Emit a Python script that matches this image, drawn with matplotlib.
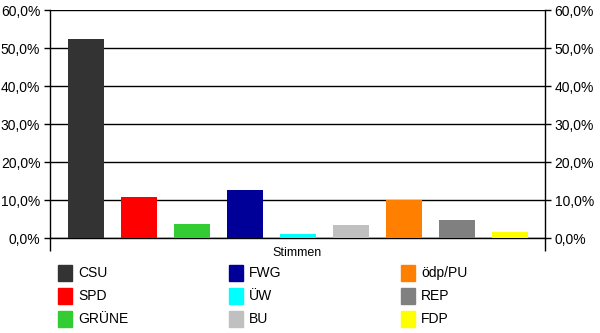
import matplotlib.pyplot as plt
from matplotlib.patches import Rectangle
from matplotlib.ticker import FuncFormatter

plt.rcParams['font.family'] = ['Liberation Sans', 'DejaVu Sans']
plt.rcParams['font.size'] = 10

# Data
parties = ["CSU", "SPD", "GRÜNE", "FWG", "ÜW", "BU", "ödp/PU", "REP", "FDP"]
shares = [52.4, 10.8, 3.7, 12.6, 1.1, 3.4, 10.0, 4.7, 1.7]
colors = ["#333333", "#FF0000", "#33CC33", "#000099", "#00FFFF",
          "#C0C0C0", "#FF8000", "#808080", "#FFFF00"]
yticks = [0, 10, 20, 30, 40, 50, 60]
xlabel = "Stimmen"

W, H = 600, 333
fig = plt.figure(figsize=(W / 100, H / 100), dpi=100)
ax = fig.add_axes([50 / W, (H - 238) / H, 495 / W, 228 / H])

x = list(range(len(parties)))
ax.bar(x, shares, width=0.68, color=colors, zorder=3)

ax.set_ylim(0, 60)
ax.set_xlim(-0.68, 8.66)
ax.set_yticks(yticks)
pct = FuncFormatter(lambda v, p: f"{v:.1f}%".replace(".", ","))
ax.yaxis.set_major_formatter(pct)
ax.tick_params(axis='y', which='both', left=True, right=True,
               labelleft=True, labelright=True, length=4, width=1,
               direction='out', pad=3, colors='black')
ax.set_xticks([-0.68, 8.66])
ax.set_xticklabels([])
ax.tick_params(axis='x', length=9, width=1, direction='out')
ax.grid(axis='y', color='black', linewidth=1, zorder=0)
for s in ['left', 'right', 'bottom']:
    ax.spines[s].set_linewidth(1)
ax.spines['top'].set_visible(False)
ax.set_xlabel(xlabel, fontsize=9, labelpad=-6)

# legend drawn as three columns
col_x = [58, 229, 401]
row_y = [273, 296, 319]
for i, (name, c) in enumerate(zip(parties, colors)):
    cx = col_x[i // 3]
    cy = row_y[i % 3]
    fig.add_artist(Rectangle((cx / W, (H - cy - 8) / H), 14 / W, 16 / H,
                             transform=fig.transFigure, color=c))
    fig.text((cx + 20) / W, (H - cy) / H, name, va='center', ha='left')

fig.savefig("out.png", dpi=100)
